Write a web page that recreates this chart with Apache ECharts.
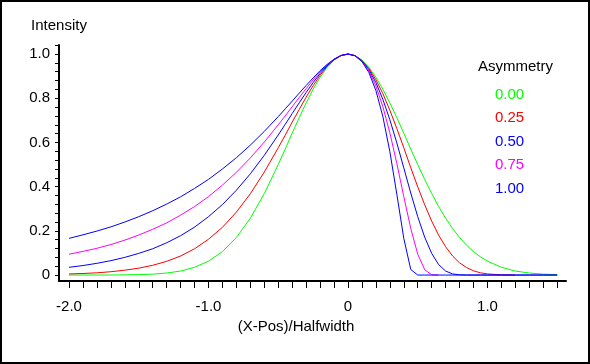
<!DOCTYPE html>
<html>
<head>
<meta charset="utf-8">
<script src="https://cdn.jsdelivr.net/npm/echarts@6/dist/echarts.min.js"></script>
<style>
html,body{margin:0;padding:0;background:#fff;}
#chart{width:590px;height:364px;}
</style>
</head>
<body>
<div id="chart"></div>
<script>
// X positions ((X-Pos)/Halfwidth)
const xs = [-2.0,-1.9,-1.8,-1.7,-1.6,-1.5,-1.4,-1.3,-1.2,-1.1,-1.0,-0.9,-0.8,-0.7,-0.6,
  -0.5,-0.45,-0.4,-0.35,-0.3,-0.25,-0.2,-0.15,-0.1,-0.05,0,0.05,0.1,0.15,0.2,0.25,0.3,0.35,0.4,0.45,0.5,
  0.55,0.6,0.65,0.7,0.75,0.8,0.85,0.9,0.95,1.0,1.1,1.2,1.3,1.4,1.5];

// Intensity for each asymmetry
const asym000 = [0,0,0,0,0.001,0.002,0.004,0.009,0.018,0.035,0.063,0.106,0.170,0.257,0.369,
  0.5,0.570,0.642,0.712,0.779,0.841,0.895,0.940,0.973,0.993,1,
  0.993,0.973,0.940,0.895,0.841,0.779,0.712,0.642,0.570,0.5,
  0.432,0.369,0.310,0.257,0.210,0.170,0.135,0.106,0.082,0.063,
  0.035,0.018,0.009,0.004,0.002];
const asym025 = [0.005,0.007,0.010,0.015,0.022,0.031,0.044,0.062,0.086,0.119,0.162,0.216,0.285,0.368,0.466,
  0.576,0.633,0.692,0.749,0.805,0.857,0.904,0.944,0.974,0.993,1,
  0.993,0.971,0.935,0.884,0.821,0.746,0.663,0.576,0.486,0.399,
  0.318,0.244,0.180,0.128,0.086,0.055,0.034,0.019,0.010,0.005,
  0.001,0];
const asym050 = [0.035,0.043,0.053,0.065,0.080,0.098,0.119,0.146,0.178,0.217,0.264,0.319,0.384,0.458,0.542,
  0.634,0.682,0.731,0.779,0.826,0.871,0.912,0.947,0.975,0.993,1,
  0.993,0.970,0.929,0.871,0.795,0.703,0.598,0.485,0.371,0.264,
  0.171,0.098,0.047,0.018,0.005,0.001,0,0,0,0,
  0,0,0,0,0];
const asym075 = [0.094,0.107,0.121,0.138,0.158,0.181,0.207,0.236,0.271,0.310,0.355,0.407,0.465,0.530,0.602,
  0.680,0.720,0.762,0.803,0.844,0.883,0.919,0.951,0.976,0.994,1,
  0.993,0.968,0.923,0.855,0.762,0.644,0.505,0.355,0.211,0.094,
  0.024,0.001,0];
const asym100 = [0.166,0.182,0.199,0.218,0.240,0.264,0.291,0.321,0.354,0.392,0.433,0.480,0.531,0.588,0.650,
  0.717,0.752,0.787,0.823,0.858,0.892,0.925,0.953,0.977,0.994,1,
  0.992,0.966,0.916,0.835,0.717,0.559,0.366,0.166,0.025,0,
  0,0,0,0,0,0,0,0,0,0,
  0,0,0,0,0];

const seriesNames = ['0.00','0.25','0.50','0.75','1.00'];
const seriesValues = [asym000, asym025, asym050, asym075, asym100];
const seriesColors = ['#00ff00','#ff0000','#0000ff','#ff00ff','#0000ff'];

// Ticks and labels
const xTickValues = [-2.0,-1.9,-1.8,-1.7,-1.6,-1.5,-1.4,-1.3,-1.2,-1.1,-1.0,-0.9,-0.8,-0.7,-0.6,-0.5,-0.4,-0.3,-0.2,-0.1,
  0,0.1,0.2,0.3,0.4,0.5,0.6,0.7,0.8,0.9,1.0,1.1,1.2,1.3,1.4,1.5];
const xLabelValues = [-2, -1, 0, 1];
const xLabelTexts = ['-2.0', '-1.0', '0', '1.0'];
const yTickValues = [0,0.04,0.08,0.12,0.16,0.2,0.24,0.28,0.32,0.36,0.4,0.44,0.48,0.52,0.56,0.6,0.64,0.68,0.72,0.76,0.8,0.84,0.88,0.92,0.96,1.0,1.04];
const yLabelValues = [0, 0.2, 0.4, 0.6, 0.8, 1.0];
const yLabelTexts = ['0', '0.2', '0.4', '0.6', '0.8', '1.0'];

const FONT = 'Liberation Sans, Arial, sans-serif';

function labelFor(values, texts, v) {
  for (let i = 0; i < values.length; i++) {
    if (Math.abs(values[i] - v) < 1e-6) return texts[i];
  }
  return '';
}

const chart = echarts.init(document.getElementById('chart'), null, {renderer: 'canvas'});
chart.setOption({
  animation: false,
  backgroundColor: '#ffffff',
  textStyle: {fontFamily: FONT},
  title: {
    text: 'Asymmetry',
    left: 478, top: 59, padding: 0,
    textStyle: {fontFamily: FONT, fontSize: 15, fontWeight: 'normal', color: '#000'}
  },
  legend: {
    orient: 'vertical',
    left: 490, top: 87,
    padding: 0,
    icon: 'rect',
    itemWidth: 0,
    itemHeight: 15,
    itemGap: 8.6,
    selectedMode: false,
    itemStyle: {opacity: 0},
    lineStyle: {opacity: 0},
    textStyle: {fontFamily: FONT, fontSize: 15},
    data: seriesNames.map((n, i) => ({name: n, textStyle: {color: seriesColors[i], fontFamily: FONT, fontSize: 15}}))
  },
  grid: {left: 59, right: 24, top: 45, bottom: 83, containLabel: false, outerBoundsMode: 'none'},
  xAxis: {
    type: 'value',
    min: -2.072, max: 1.563,
    name: '(X-Pos)/Halfwidth',
    nameLocation: 'middle',
    nameGap: 37,
    nameTextStyle: {fontFamily: FONT, fontSize: 15, color: '#000', padding: [0, 33, 0, 0]},
    axisLine: {show: true, onZero: false, lineStyle: {color: '#000', width: 2}},
    axisTick: {show: true, length: 7, customValues: xTickValues, lineStyle: {color: '#000', width: 1}},
    axisLabel: {
      show: true, margin: 18, customValues: xLabelValues,
      fontFamily: FONT, fontSize: 15, color: '#000',
      formatter: v => labelFor(xLabelValues, xLabelTexts, v)
    },
    splitLine: {show: false}
  },
  yAxis: {
    type: 'value',
    min: -0.027, max: 1.041,
    name: 'Intensity',
    nameLocation: 'end',
    nameGap: 12,
    nameTextStyle: {fontFamily: FONT, fontSize: 15, color: '#000', align: 'center'},
    axisLine: {show: true, onZero: false, lineStyle: {color: '#000', width: 2}},
    axisTick: {show: true, length: 4, customValues: yTickValues, lineStyle: {color: '#000', width: 1}},
    axisLabel: {
      show: true, margin: 9, customValues: yLabelValues,
      fontFamily: FONT, fontSize: 15, color: '#000',
      formatter: v => labelFor(yLabelValues, yLabelTexts, v)
    },
    splitLine: {show: false}
  },
  graphic: [{
    type: 'rect',
    shape: {x: 1, y: 1, width: 588, height: 362},
    style: {fill: 'none', stroke: '#000', lineWidth: 2},
    silent: true, z: 100
  }],
  series: seriesNames.map((n, i) => ({
    name: n,
    type: 'line',
    showSymbol: false,
    symbol: 'none',
    smooth: false,
    lineStyle: {color: seriesColors[i], width: 1},
    itemStyle: {color: seriesColors[i]},
    data: seriesValues[i].map((v, j) => [xs[j], v])
  }))
});
</script>
</body>
</html>
